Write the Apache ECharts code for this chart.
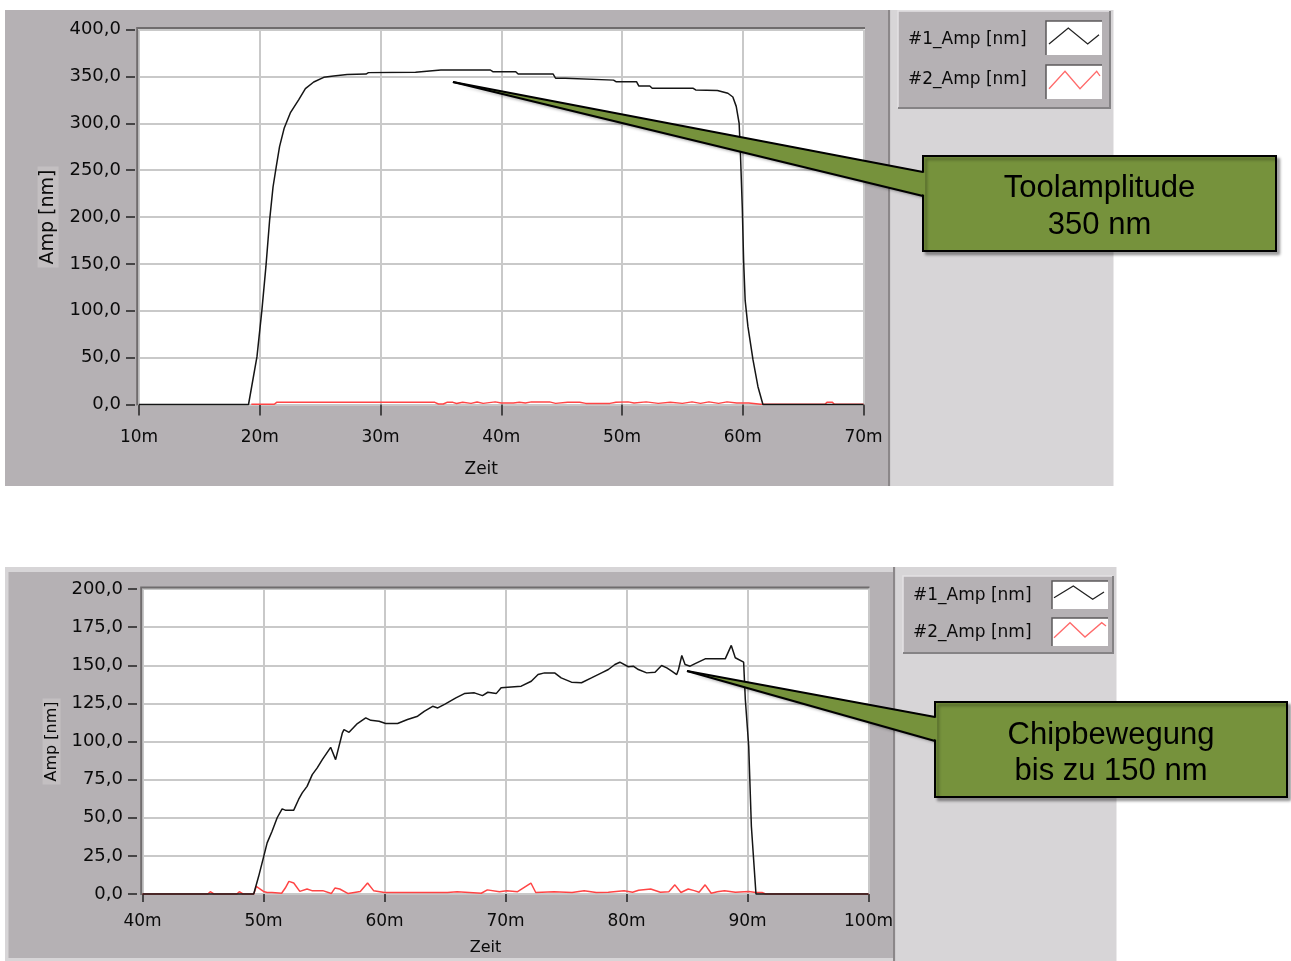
<!DOCTYPE html>
<html><head><meta charset="utf-8">
<script src="https://cdn.jsdelivr.net/npm/echarts@6/dist/echarts.min.js"></script>
<style>html,body{margin:0;padding:0;background:#fff;}#c{width:1291px;height:961px;}</style>
</head><body><div id="c"></div>
<script>
// ---------- data ----------
const seriesNames = ['#1_Amp [nm]', '#2_Amp [nm]'];
const xName = 'Zeit';
const yName = 'Amp [nm]';
const topXRange = [10, 70];  const topXStep = 10;
const topYRange = [0, 400];  const topYStep = 50;
const botXRange = [40, 100]; const botXStep = 10;
const botYRange = [0, 200];  const botYStep = 25;
const calloutTexts = [['Toolamplitude', '350 nm'], ['Chipbewegung', 'bis zu 150 nm']];
const calloutTargets = [[36.0, 344], [85.0, 146.2]];

// top chart, #1 (black)
const top1 = [[10,0],[19.07,0],[19.77,51],[20.18,101],[20.51,147],[20.82,197],[21.1,232],[21.37,254],[21.64,275],[22.03,295],[22.53,311],[23.22,325],[23.78,337],[24.47,344],[25.3,349],[26.12,350.5],[27.24,352],[28.8,352.5],[29.0,354],[32.9,354.5],[33.0,356.5],[35,356.8],[39.1,356.8],[39.3,355],[41.2,355],[41.4,352.5],[44.3,352.5],[44.5,348],[45.3,348],[45.4,346],[49.3,346],[49.5,344.3],[51.2,344.3],[51.4,339.7],[52.3,339.7],[52.5,337.3],[55.9,337.3],[56.1,335.5],[57.9,335],[58.77,332],[59.18,328],[59.46,318],[59.7,300],[59.8,271],[59.96,211],[60.07,154],[60.2,111],[60.43,83],[60.85,47.5],[61.26,19],[61.67,0],[70,0]];
// top chart, #2 (red)
const top2 = [[19.3,0.3],[21.2,0.3],[21.4,2.3],[34.5,2.3],[34.8,0.5],[35.2,0.5],[35.5,2.3],[36.0,2.3],[36.3,1.0],[36.8,2.5],[37.5,1.2],[38.0,2.6],[38.5,1.2],[39.5,2.8],[40.0,1.5],[41.0,1.5],[41.5,2.5],[42.0,1.5],[42.5,2.8],[44.0,2.8],[44.5,1.2],[45.5,2.5],[46.5,2.5],[47.0,1.2],[49.0,1.2],[49.5,2.5],[50.5,2.8],[51.0,1.5],[52.0,2.8],[53.0,1.2],[54.0,2.5],[55.0,1.2],[55.8,2.8],[56.5,1.2],[57.2,2.8],[58.0,1.2],[58.7,2.8],[59.5,1.5],[60.5,1.5],[61.5,0.3],[66.8,0.3],[67.0,2.5],[67.4,2.5],[67.6,0.3],[70,0.3]];
// bottom chart, #1 (black)
const bot1 = [[40,0],[49.19,0],[49.6,11.6],[50.02,24.7],[50.3,33.5],[50.7,41],[51.13,50],[51.54,55.8],[51.8,55],[52.5,55],[52.9,62],[53.2,66.3],[53.6,70.6],[54.03,78.3],[54.44,82.7],[54.86,88.1],[55.55,96.2],[55.96,88.1],[56.1,88],[56.52,105.7],[56.65,107.8],[57.07,106],[57.76,111.8],[58.45,115.5],[58.87,113.9],[59.55,113.3],[60.1,111.8],[61.08,111.8],[61.9,114.4],[62.74,116.6],[63.28,119.8],[63.98,123.1],[64.4,122],[65.0,124.5],[65.9,128.6],[66.6,131.4],[67.43,131.9],[68.1,130.1],[68.54,132.3],[69.23,131.4],[69.64,135.2],[71.3,136.3],[72.13,139.5],[72.69,143.9],[73.23,145],[74.06,145],[74.6,141.7],[75.45,138.9],[76.28,138.5],[77.1,141.7],[77.94,145],[78.5,147.2],[79.04,150.5],[79.45,152],[80.15,149],[80.56,149.4],[80.98,147.2],[81.67,145],[82.36,145.4],[82.9,149.8],[83.33,148.3],[83.74,146.1],[84.15,143.9],[84.3,147.2],[84.57,156.4],[84.84,150.5],[85.26,149.4],[85.67,151.1],[86.5,154.2],[87.33,154.2],[88.16,154.2],[88.66,163],[88.99,154.9],[89.68,152],[89.82,127.5],[90.1,96.9],[90.32,44.4],[90.6,11.6],[90.7,0],[100,0]];
// bottom chart, #2 (red)
const bot2 = [[40,0],[45.4,0],[45.6,1.5],[45.9,0],[47.8,0],[48.0,1.5],[48.3,0],[49.2,0],[49.4,5],[50.0,1.7],[50.3,1],[50.7,1],[51.5,0.5],[51.8,3.9],[52.1,8.3],[52.5,7.2],[53.0,1.7],[53.6,3.3],[54.0,2.2],[54.9,2.2],[55.6,0.3],[55.9,3.9],[56.3,3.3],[57.0,0.3],[58.0,1.7],[58.6,7.2],[59.1,2.2],[60.0,1],[63.0,1],[63.1,2.2],[63.3,1],[65.2,1],[66.0,1.5],[67.0,1],[68.0,0.5],[68.5,2.7],[69.5,1.5],[70.1,2.2],[71.0,1.5],[72.1,7.2],[72.5,1],[74.0,1.5],[75.5,1],[76.5,2.2],[77.5,1],[78.5,1.2],[79.8,2.2],[80.5,1.2],[81.0,2.5],[82.0,3.3],[82.8,1.2],[83.5,1.5],[84.0,6],[84.5,1],[85.1,3.3],[85.6,2.2],[86.0,1.2],[86.5,6],[87.0,0.5],[87.5,1.5],[88.1,2.2],[89.0,1.2],[90.1,1.7],[90.7,1],[91.2,1],[91.5,0],[100,0]];

// ---------- styling ----------
const FONT = 'DejaVu Sans';
const TXT = '#0a0a0a';
const DARK = '#b5b1b4', LIGHT = '#d7d5d7', SEP = '#8b8789';
const BLACK = '#151515', RED = '#ff4545';
const fmtY = v => v.toFixed(1).replace('.', ',');
const fmtX = v => v + 'm';

function xAxisCfg(gi, range, step, offset, tickLen, margin, gap, nameSize) {
  return {
    type: 'value', gridIndex: gi, min: range[0], max: range[1], interval: step, offset: offset,
    axisLine: {show: false},
    axisTick: {show: true, length: tickLen, lineStyle: {color: '#222', width: 1.5}},
    axisLabel: {margin: margin, fontFamily: FONT, fontSize: 17, color: TXT, formatter: fmtX},
    splitLine: {show: true, lineStyle: {color: '#c9c9c9', width: 2}},
    name: xName, nameLocation: 'middle', nameGap: gap,
    nameTextStyle: {fontFamily: FONT, fontSize: nameSize, color: TXT, padding: [0, 40, 0, 0]}
  };
}
function yAxisCfg(gi, range, step, offset, margin, gap, nameSize) {
  return {
    type: 'value', gridIndex: gi, min: range[0], max: range[1], interval: step, offset: offset,
    axisLine: {show: false},
    axisTick: {show: true, length: 9, lineStyle: {color: '#222', width: 1.5}},
    axisLabel: {margin: margin, fontFamily: FONT, fontSize: 18, color: TXT, formatter: fmtY},
    splitLine: {show: true, lineStyle: {color: '#c9c9c9', width: 2}},
    name: yName, nameLocation: 'middle', nameGap: gap, nameRotate: 90,
    nameTextStyle: {fontFamily: FONT, fontSize: nameSize, color: TXT, backgroundColor: '#c3bfc1', padding: [1, 3, 1, 3]}
  };
}
function lineSeries(name, data, xi, color, z) {
  return {
    name: name, type: 'line', xAxisIndex: xi, yAxisIndex: xi, data: data,
    showSymbol: false, symbol: 'none', clip: false, z: z,
    lineStyle: {color: color, width: 1.5}, itemStyle: {color: color}
  };
}

const chart = echarts.init(document.getElementById('c'), null, {renderer: 'canvas'});
chart.setOption({
  animation: false,
  backgroundColor: '#ffffff',
  grid: [
    {left: 139, top: 29.5, width: 724.5, height: 375},
    {left: 142.5, top: 589, width: 726, height: 305}
  ],
  xAxis: [
    xAxisCfg(0, topXRange, topXStep, 6, 11, 19, 51, 17),
    xAxisCfg(1, botXRange, botXStep, 5.5, 8, 14, 40, 16)
  ],
  yAxis: [
    yAxisCfg(0, topYRange, topYStep, 4, 14, 67, 19),
    yAxisCfg(1, botYRange, botYStep, 5.5, 14, 67, 16)
  ],
  series: [
    lineSeries(seriesNames[1], top2, 0, RED, 2),
    lineSeries(seriesNames[0], top1, 0, BLACK, 3),
    lineSeries(seriesNames[1], bot2, 1, RED, 2),
    lineSeries(seriesNames[0], bot1, 1, BLACK, 3)
  ]
});

// ---------- decoration (panels, legends, callouts) ----------
const G = [];
function rect(x, y, w, h, fill, z, extra) {
  G.push(Object.assign({type: 'rect', z: z, silent: true, shape: {x: x, y: y, width: w, height: h},
    style: {fill: fill}}, extra || {}));
}
function pline(pts, color, width, z) {
  G.push({type: 'polyline', z: z, silent: true, shape: {points: pts},
    style: {stroke: color, lineWidth: width, fill: null}});
}
function text(str, x, y, font, color, z, align) {
  G.push({type: 'text', z: z, silent: true, x: x, y: y,
    style: {text: str, font: font, fill: color, textAlign: align || 'left', textVerticalAlign: 'middle'}});
}
// top panel
rect(5, 10, 883, 476, DARK, -10);
rect(888, 10, 2.5, 476, SEP, -10);
rect(890.5, 10, 223, 476, LIGHT, -10);
rect(137, 27.5, 728, 378, '#ffffff', -9);
pline([[137.2, 405.5], [137.2, 28], [865, 28]], '#6f6c6d', 2, 1);
// bottom panel
rect(5, 567, 888, 394, LIGHT, -10);
rect(8.5, 572, 884.5, 386, DARK, -10);
rect(893, 567, 2.5, 394, SEP, -10);
rect(895.5, 567, 221, 394, LIGHT, -10);
rect(141, 587.5, 728.5, 307.5, '#ffffff', -9);
pline([[141.2, 895], [141.2, 587.5], [869.5, 587.5]], '#6f6c6d', 2, 1);

// legends
function legend(bx, by, bw, bh, sx, sw, rows) {
  rect(bx, by, bw, bh, DARK, 5);
  pline([[bx, by + bh], [bx, by], [bx + bw, by]], '#e3e1e3', 1.5, 6);
  pline([[bx, by + bh], [bx + bw, by + bh], [bx + bw, by]], '#858385', 2, 6);
  rows.forEach((r, i) => {
    rect(sx, r.sy, sw, r.sh, '#ffffff', 6);
    pline([[sx, r.sy + r.sh], [sx, r.sy], [sx + sw, r.sy]], '#5c5a5b', 1.5, 7);
    pline(r.zig, i === 0 ? '#222' : '#ff6a6a', 1.3, 7);
    text(seriesNames[i], r.tx, r.ty, '17px "' + FONT + '"', TXT, 7);
  });
}
legend(898, 11, 212, 97, 1046, 56, [
  {sy: 21, sh: 34, tx: 908, ty: 40, zig: [[1049, 44], [1068.3, 28], [1087.7, 44], [1099, 34.7]]},
  {sy: 65, sh: 34, tx: 908, ty: 80, zig: [[1049, 88.7], [1065, 71.3], [1080, 88.7], [1096.7, 71.3], [1100, 76]]}
]);
legend(903, 576, 210, 77, 1052, 56, [
  {sy: 581, sh: 28, tx: 913, ty: 596, zig: [[1054, 597.7], [1073.3, 586], [1092.7, 599.3], [1104, 592]]},
  {sy: 618, sh: 28, tx: 913, ty: 633, zig: [[1054, 637.7], [1070, 622.7], [1085, 637], [1101.7, 622.7], [1106, 626]]}
]);

// callouts
const GREEN = '#76923c';
const SH = {shadowBlur: 3, shadowOffsetX: 3, shadowOffsetY: 3, shadowColor: 'rgba(0,0,0,0.35)'};
function callout(gi, target, box, baseY, lines, lineYs) {
  const tip = chart.convertToPixel({gridIndex: gi}, target);
  const bx = box[0];
  G.push({type: 'polygon', z: 100, silent: true, shape: {points: [tip, [bx + 2, baseY[0]], [bx + 2, baseY[1]]]},
    style: Object.assign({fill: GREEN}, SH)});
  G.push({type: 'rect', z: 101, silent: true, shape: {x: box[0], y: box[1], width: box[2], height: box[3]},
    style: Object.assign({fill: GREEN, stroke: '#000', lineWidth: 2}, SH)});
  G.push({type: 'polygon', z: 102, silent: true, shape: {points: [tip, [bx + 2, baseY[0] + 1], [bx + 2, baseY[1] - 1]]},
    style: {fill: GREEN}});
  pline([tip, [bx, baseY[0]]], '#000', 2, 103);
  pline([tip, [bx, baseY[1]]], '#000', 2, 103);
  lines.forEach((s, i) => text(s, bx + box[2] / 2, lineYs[i], '31px "Liberation Sans"', '#000', 104, 'center'));
}
callout(0, calloutTargets[0], [923, 156, 353, 95], [172, 196], calloutTexts[0], [188, 225]);
callout(1, calloutTargets[1], [935, 702, 352, 95], [717, 741], calloutTexts[1], [735, 771]);

chart.setOption({graphic: {elements: G}});
</script></body></html>
